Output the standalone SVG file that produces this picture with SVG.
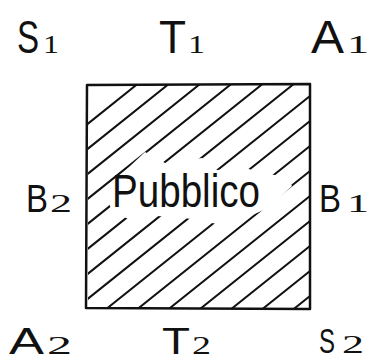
<svg xmlns="http://www.w3.org/2000/svg" width="375" height="362" viewBox="0 0 375 362">
  <style>
    .lbl { font-family: "Liberation Sans", Arial, sans-serif; fill: #111; }
    .sub { font-family: "Liberation Serif", "Times New Roman", serif; font-size: 25px; fill: #111; }
    .hatch line { stroke: #111; stroke-width: 2; stroke-linecap: round; }
    .box { fill: none; stroke: #111; stroke-width: 2.5; stroke-linejoin: round; }
    .name { font-family: "Liberation Sans", Arial, sans-serif; font-size: 47px; fill: #111; }
  </style>
  <defs>
    <clipPath id="sq">
      <rect x="88" y="85" width="222" height="223"/>
    </clipPath>
    <mask id="gap" maskUnits="userSpaceOnUse" x="0" y="0" width="375" height="362">
      <rect x="0" y="0" width="375" height="362" fill="#fff"/>
      <polygon fill="#000" points="110,185 145,152 165,163 202,158 217,170 245,168 263,173 287,177 292,186 268,208 228,226 185,218 157,216 138,223 112,212 108,200"/>
    </mask>
  </defs>

  <rect width="375" height="362" fill="#fff"/>

  <g id="public-area">
    <g class="hatch" clip-path="url(#sq)" mask="url(#gap)">
      <line x1="60" y1="146" x2="340" y2="-78"/>
      <line x1="60" y1="171" x2="340" y2="-53"/>
      <line x1="60" y1="196" x2="340" y2="-28"/>
      <line x1="60" y1="221" x2="340" y2="-3"/>
      <line x1="60" y1="246" x2="340" y2="22"/>
      <line x1="60" y1="271" x2="340" y2="47"/>
      <line x1="60" y1="296" x2="340" y2="72"/>
      <line x1="60" y1="321" x2="340" y2="97"/>
      <line x1="60" y1="346" x2="340" y2="122"/>
      <line x1="60" y1="371" x2="340" y2="147"/>
      <line x1="60" y1="396" x2="340" y2="172"/>
      <line x1="60" y1="421" x2="340" y2="197"/>
      <line x1="60" y1="446" x2="340" y2="222"/>
      <line x1="60" y1="471" x2="340" y2="247"/>
      <line x1="60" y1="496" x2="340" y2="272"/>
    </g>
    <path class="box" d="M87,85 L310,84 L310,309 L86,308 Z"/>
    <text class="name" x="112" y="207" textLength="148" lengthAdjust="spacingAndGlyphs">Pubblico</text>
  </g>

  <g id="S1">
    <text class="lbl" transform="translate(17,53) scale(0.72,1)" font-size="46">S</text>
    <text class="sub" x="43" y="53" textLength="16" lengthAdjust="spacingAndGlyphs">1</text>
  </g>
  <g id="T1">
    <text class="lbl" x="159" y="53" font-size="46" textLength="27" lengthAdjust="spacingAndGlyphs">T</text>
    <text class="sub" x="188" y="53" textLength="17" lengthAdjust="spacingAndGlyphs">1</text>
  </g>
  <g id="A1">
    <text class="lbl" x="311" y="53" font-size="46" textLength="33" lengthAdjust="spacingAndGlyphs">A</text>
    <text class="sub" x="347" y="53" textLength="22" lengthAdjust="spacingAndGlyphs">1</text>
  </g>
  <g id="B2">
    <text class="lbl" x="26" y="212" font-size="38" textLength="22" lengthAdjust="spacingAndGlyphs">B</text>
    <text class="sub" x="50" y="212" textLength="22" lengthAdjust="spacingAndGlyphs">2</text>
  </g>
  <g id="B1">
    <text class="lbl" x="319" y="212" font-size="38" textLength="22" lengthAdjust="spacingAndGlyphs">B</text>
    <text class="sub" x="347" y="212" textLength="22" lengthAdjust="spacingAndGlyphs">1</text>
  </g>
  <g id="A2">
    <text class="lbl" x="9" y="354" font-size="36" textLength="35" lengthAdjust="spacingAndGlyphs">A</text>
    <text class="sub" x="47" y="354" textLength="25" lengthAdjust="spacingAndGlyphs">2</text>
  </g>
  <g id="T2">
    <text class="lbl" x="162" y="354" font-size="36" textLength="28" lengthAdjust="spacingAndGlyphs">T</text>
    <text class="sub" x="192" y="354" textLength="19" lengthAdjust="spacingAndGlyphs">2</text>
  </g>
  <g id="S2">
    <text class="lbl" x="319" y="353" font-size="35" textLength="16" lengthAdjust="spacingAndGlyphs">S</text>
    <text class="sub" x="342" y="353" textLength="22" lengthAdjust="spacingAndGlyphs">2</text>
  </g>
</svg>
